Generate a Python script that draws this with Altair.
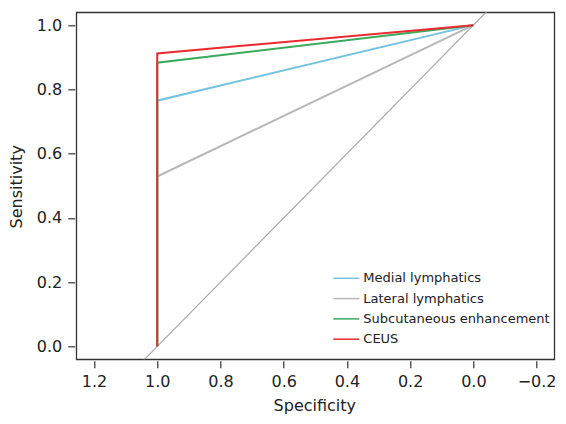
import altair as alt
import pandas as pd

series = ["Medial lymphatics", "Lateral lymphatics", "Subcutaneous enhancement", "CEUS"]
sensitivity_at_spec1 = [0.765, 0.529, 0.883, 0.912]
colors = ["#74c3df", "#b8b8b8", "#3aab5c", "#ea2a30"]
roc_specificity = [1.0, 1.0, 0.0]
diag_spec = [1.3, -0.3]
diag_sens = [-0.3, 1.3]
x_ticks = [1.2, 1.0, 0.8, 0.6, 0.4, 0.2, 0.0, -0.2]
y_ticks = [0.0, 0.2, 0.4, 0.6, 0.8, 1.0]

rows = []
for name, s in zip(series, sensitivity_at_spec1):
    for i, (sp, se) in enumerate(zip(roc_specificity, [0.0, s, 1.0])):
        rows.append(dict(series=name, spec=sp, sens=se, step=i))
roc = pd.DataFrame(rows)
diag = pd.DataFrame({"spec": diag_spec, "sens": diag_sens})

FONT = "DejaVu Sans"
TXT = "#222222"
W, H = 478, 347

x_scale = alt.Scale(domain=[-0.256, 1.256], reverse=True, nice=False, zero=False)
y_scale = alt.Scale(domain=[-0.04, 1.04], nice=False, zero=False)

x_axis = alt.Axis(values=x_ticks, format=".1f", grid=False, domain=False, offset=1.5,
                  tickSize=7, tickColor="#333333", tickWidth=1.2,
                  labelFont=FONT, labelFontSize=16, labelColor=TXT, labelPadding=6,
                  title="Specificity", titleFont=FONT, titleFontSize=16,
                  titleFontWeight="normal", titleColor=TXT, titleBaseline="middle",
                  titleY=45, titleX=238)
y_axis = alt.Axis(values=y_ticks, format=".1f", grid=False, domain=False, offset=1.5,
                  tickSize=7, tickColor="#333333", tickWidth=1.2,
                  labelFont=FONT, labelFontSize=16, labelColor=TXT, labelPadding=6,
                  title="Sensitivity", titleFont=FONT, titleFontSize=16,
                  titleFontWeight="normal", titleColor=TXT, titleAngle=270,
                  titleBaseline="middle", titleAlign="center", titleX=-58, titleY=174)

diag_line = alt.Chart(diag).mark_line(clip=True, color="#aaaaaa", strokeWidth=1.2).encode(
    x=alt.X("spec:Q", scale=x_scale, axis=x_axis),
    y=alt.Y("sens:Q", scale=y_scale, axis=y_axis),
)

roc_lines = alt.Chart(roc).mark_line(clip=True, strokeWidth=2).encode(
    x=alt.X("spec:Q", scale=x_scale, axis=x_axis),
    y=alt.Y("sens:Q", scale=y_scale, axis=y_axis),
    color=alt.Color("series:N", scale=alt.Scale(domain=series, range=colors),
                    legend=alt.Legend(title=None, orient="none", legendX=269, legendY=258.5,
                                      symbolType="M-3,0H1", symbolSize=169,
                                      symbolStrokeWidth=1.5, labelOffset=3,
                                      labelFont=FONT, labelFontSize=13, labelColor=TXT,
                                      labelLimit=400, rowPadding=5.3, padding=0)),
    order="step:O",
)

chart = alt.layer(diag_line, roc_lines).properties(
    width=W, height=H,
    autosize=alt.AutoSizeParams(type="none"),
    padding={"left": 68.3, "top": 4.3, "right": 550 - 68.3 - W, "bottom": 408 - 4.3 - H},
).configure(background="white").configure_view(stroke="#333333", strokeWidth=1.3)

chart.save("out.html", embed_options={"renderer": "svg", "actions": False})
